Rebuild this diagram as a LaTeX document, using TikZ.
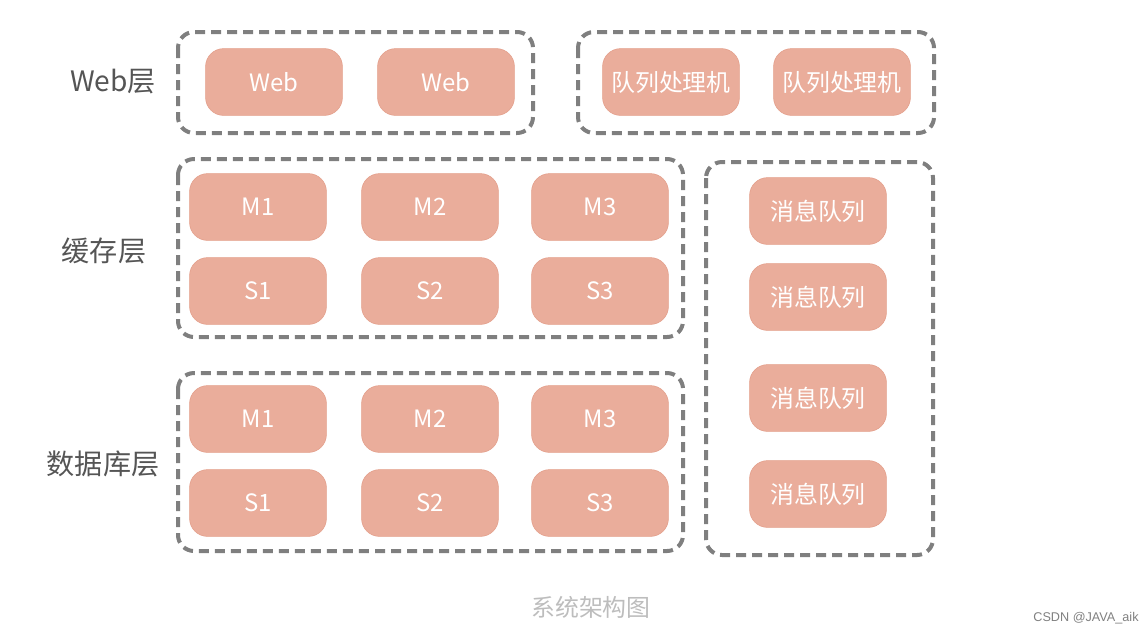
\documentclass[tikz,border=0pt]{standalone}
\usepackage{fontspec}
\setmainfont{Noto Sans CJK SC}
\setsansfont{Liberation Sans}
\usetikzlibrary{positioning}
\definecolor{boxfill}{HTML}{EAAD9B}
\definecolor{boxline}{HTML}{E39E8A}
\definecolor{zoneline}{HTML}{7F7F7F}
\definecolor{labelgray}{HTML}{555555}
\definecolor{capgray}{HTML}{BDBDBD}
\tikzset{
unit/.style={draw=boxline,fill=boxfill,rounded corners=0.45cm,minimum width=3.42cm,minimum height=1.67cm,inner sep=0pt,text=white,font=\fontsize{17}{20}\selectfont},
zone/.style={draw=zoneline,line width=0.1cm,dash pattern=on 0.25cm off 0.15cm,rounded corners=0.4cm},
layer/.style={text=labelgray,font=\fontsize{20}{24}\selectfont},
caption/.style={text=capgray,font=\fontsize{17}{20}\selectfont},
watermark/.style={text=gray,font=\sffamily\fontsize{9}{11}\selectfont}
}
\begin{document}
\begin{tikzpicture}[x=0.025cm,y=-0.025cm]
\useasboundingbox (0,0) rectangle (1142,634);
% groups
\draw[zone] (178,32) rectangle (533,133);
\draw[zone] (578,32) rectangle (934,133);
\draw[zone] (178,159) rectangle (683,337);
\draw[zone] (178,373) rectangle (683,551);
\draw[zone] (706,162) rectangle (933,555);
% web layer
\node[unit] (web1) at (274,82) {Web};
\node[unit] (web2) at (446,82) {Web};
\node[unit] (proc1) at (671,82) {队列处理机};
\node[unit] (proc2) at (842,82) {队列处理机};
% cache layer
\node[unit] (cm1) at (258,207) {M1};
\node[unit] (cm2) at (430,207) {M2};
\node[unit] (cm3) at (600,207) {M3};
\node[unit] (cs1) at (258,291) {S1};
\node[unit] (cs2) at (430,291) {S2};
\node[unit] (cs3) at (600,291) {S3};
% database layer
\node[unit] (dm1) at (258,419) {M1};
\node[unit] (dm2) at (430,419) {M2};
\node[unit] (dm3) at (600,419) {M3};
\node[unit] (ds1) at (258,503) {S1};
\node[unit] (ds2) at (430,503) {S2};
\node[unit] (ds3) at (600,503) {S3};
% message queues
\node[unit] (mq1) at (818,211) {消息队列};
\node[unit] (mq2) at (818,297) {消息队列};
\node[unit] (mq3) at (818,398) {消息队列};
\node[unit] (mq4) at (818,494) {消息队列};
% labels
\node[layer] (lweb) at (113,82) {Web层};
\node[layer] (lcache) at (104,251) {缓存层};
\node[layer] (ldb) at (103,464) {数据库层};
\node[caption] (title) at (591,607) {系统架构图};
\node[watermark] (csdn) at (1086,618) {CSDN @JAVA\_aik};
\end{tikzpicture}
\end{document}
